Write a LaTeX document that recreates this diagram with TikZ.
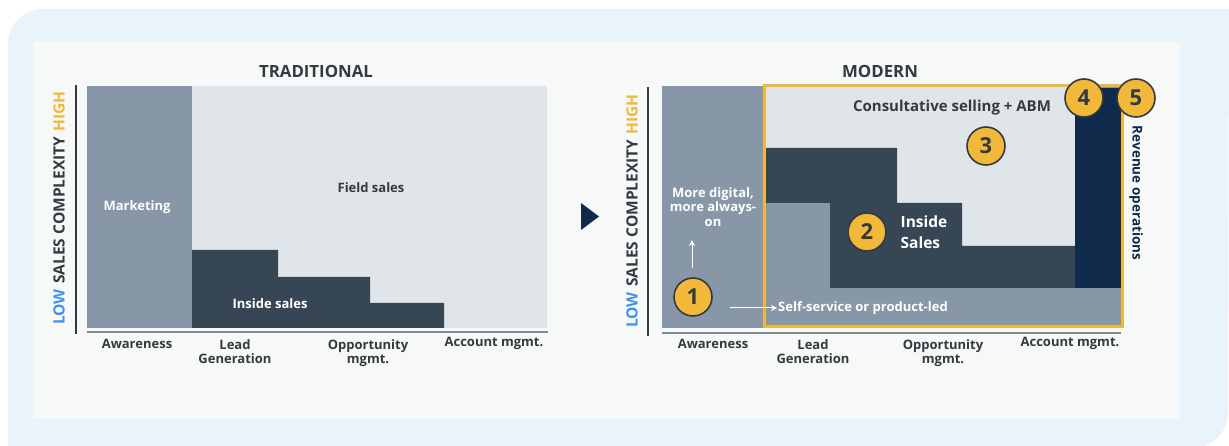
\documentclass[tikz,border=0pt]{standalone}
\usepackage{fontspec}
\setmainfont{Open Sans}
\usetikzlibrary{arrows.meta}
\definecolor{bgblue}{HTML}{E8F3FA}
\definecolor{panelgrey}{HTML}{F7F8F8}
\definecolor{mktgrey}{HTML}{8797A8}
\definecolor{fieldgrey}{HTML}{E0E5E9}
\definecolor{slate}{HTML}{364655}
\definecolor{navy}{HTML}{0F2A4A}
\definecolor{gold}{HTML}{F2B83A}
\definecolor{inkdark}{HTML}{343A40}
\definecolor{lowblue}{HTML}{3F92EC}
\definecolor{axisgrey}{HTML}{7D8995}
\newcommand{\lblfont}{\fontsize{13}{14.5}\selectfont\bfseries}
\tikzstyle{stagelbl} = [text=inkdark, font=\lblfont, align=center, inner sep=1pt]
\tikzstyle{whitelbl} = [text=white, font=\lblfont, align=center, inner sep=1pt]
\tikzstyle{charttitle} = [text=inkdark, font=\fontsize{16.8}{18}\selectfont\bfseries]
\tikzstyle{numcircle} = [circle, fill=gold, draw=inkdark, line width=1.6pt, minimum size=38pt, inner sep=0pt, text=inkdark, font=\fontsize{22}{24}\selectfont\bfseries]
\tikzstyle{yaxislbl} = [rotate=90, font=\fontsize{15.5}{17}\selectfont\bfseries]
\begin{document}
\begin{tikzpicture}[x=1pt, y=-1pt]
\useasboundingbox (0,0) rectangle (1229,446);
% background and panel
\fill[white] (0,0) rectangle (1229,446);
\fill[bgblue] (8,470) -- (8,44) .. controls (8,24) and (24,9) .. (44,9) -- (1229,9)
  -- (1228,412) .. controls (1228,432) and (1212,448) .. (1192,448) -- (1192,470) -- cycle;
\fill[panelgrey] (33,42) rectangle (1180,419);

% traditional chart
\fill[mktgrey] (87,86) rectangle (192,328);
\fill[fieldgrey] (192,86) rectangle (547,328);
\fill[slate] (192,328) -- (192,250) -- (278,250) -- (278,277) -- (370,277) -- (370,303)
  -- (444,303) -- (444,328) -- cycle;
\draw[inkdark, line width=1.5pt] (76,85) -- (76,334);
\draw[axisgrey, line width=2pt] (87,332) -- (548,332);
\node[charttitle] (tradtitle) at (316,71) {TRADITIONAL};
\node[whitelbl] (tradmkt) at (137,207) {Marketing};
\node[stagelbl] (tradfield) at (371,188) {Field sales};
\node[whitelbl] (tradinside) at (270,304) {Inside sales};
\node[yaxislbl] (tradyaxis) at (59,208) {\textcolor{lowblue}{LOW}\hspace{0.35em}\textcolor{inkdark}{SALES COMPLEXITY}\hspace{0.35em}\textcolor{gold}{HIGH}};
\node[stagelbl, anchor=north] (tradaware) at (137,338) {Awareness};
\node[stagelbl, anchor=north] (tradlead) at (235,338) {Lead\\Generation};
\node[stagelbl, anchor=north] (tradopp) at (368,338) {Opportunity\\mgmt.};
\node[stagelbl, anchor=north] (tradacct) at (494,336) {Account mgmt.};

% arrow between charts
\fill[navy] (581,203) -- (599,216.5) -- (581,230) -- cycle;

% modern chart
\fill[mktgrey] (662,86) rectangle (1121,328);
\fill[fieldgrey] (764,86) -- (1075,86) -- (1075,246) -- (962,246) -- (962,203) -- (897,203)
  -- (897,148) -- (764,148) -- cycle;
\fill[slate] (764,148) -- (897,148) -- (897,203) -- (962,203) -- (962,246) -- (1075,246)
  -- (1075,288) -- (830,288) -- (830,203) -- (764,203) -- cycle;
\fill[navy] (1075,88) rectangle (1121,288);
\draw[gold, line width=3pt] (764,86) rectangle (1122,327);
\draw[inkdark, line width=1.5pt] (648,87) -- (648,336);
\draw[axisgrey, line width=2pt] (662,333) -- (1121,333);
\node[charttitle] (modtitle) at (880,71) {MODERN};
\node[yaxislbl] (modyaxis) at (632,211) {\textcolor{lowblue}{LOW}\hspace{0.35em}\textcolor{inkdark}{SALES COMPLEXITY}\hspace{0.35em}\textcolor{gold}{HIGH}};
\node[whitelbl] (moddigital) at (713,207) {More digital,\\more always-\\on};
\node[whitelbl, anchor=west] (modself) at (777,308) {Self-service or product-led};
\node[whitelbl, align=left, font=\fontsize{15.5}{21}\selectfont\bfseries] (modinside) at (924,232) {Inside\\Sales};
\node[stagelbl, font=\fontsize{15}{16}\selectfont\bfseries] (modconsult) at (952,108) {Consultative selling + ABM};
\node[rotate=-90, text=navy, font=\fontsize{13.5}{15}\selectfont\bfseries] (modrevops) at (1136,193) {Revenue operations};
\node[stagelbl, anchor=north] (modaware) at (713,338) {Awareness};
\node[stagelbl, anchor=north] (modlead) at (813,338) {Lead\\Generation};
\node[stagelbl, anchor=north] (modopp) at (943,338) {Opportunity\\mgmt.};
\node[stagelbl, anchor=north] (modacct) at (1070,336) {Account mgmt.};

% numbered markers
\node[numcircle] (c1) at (693,297) {1};
\node[numcircle] (c2) at (867,232) {2};
\node[numcircle] (c3) at (986,146) {3};
\node[numcircle] (c4) at (1084,98) {4};
\node[numcircle] (c5) at (1136,98) {5};

% white arrows
\coordinate (upstart) at (692,268);
\coordinate (upend) at (692,240);
\coordinate (rightstart) at (730,308);
\draw[white, line width=1pt, -{Stealth[length=6pt, width=6pt]}] (upstart) -- (upend);
\draw[white, line width=1pt, -{Stealth[length=6pt, width=6pt]}] (rightstart) -- (modself.west);
\end{tikzpicture}
\end{document}
